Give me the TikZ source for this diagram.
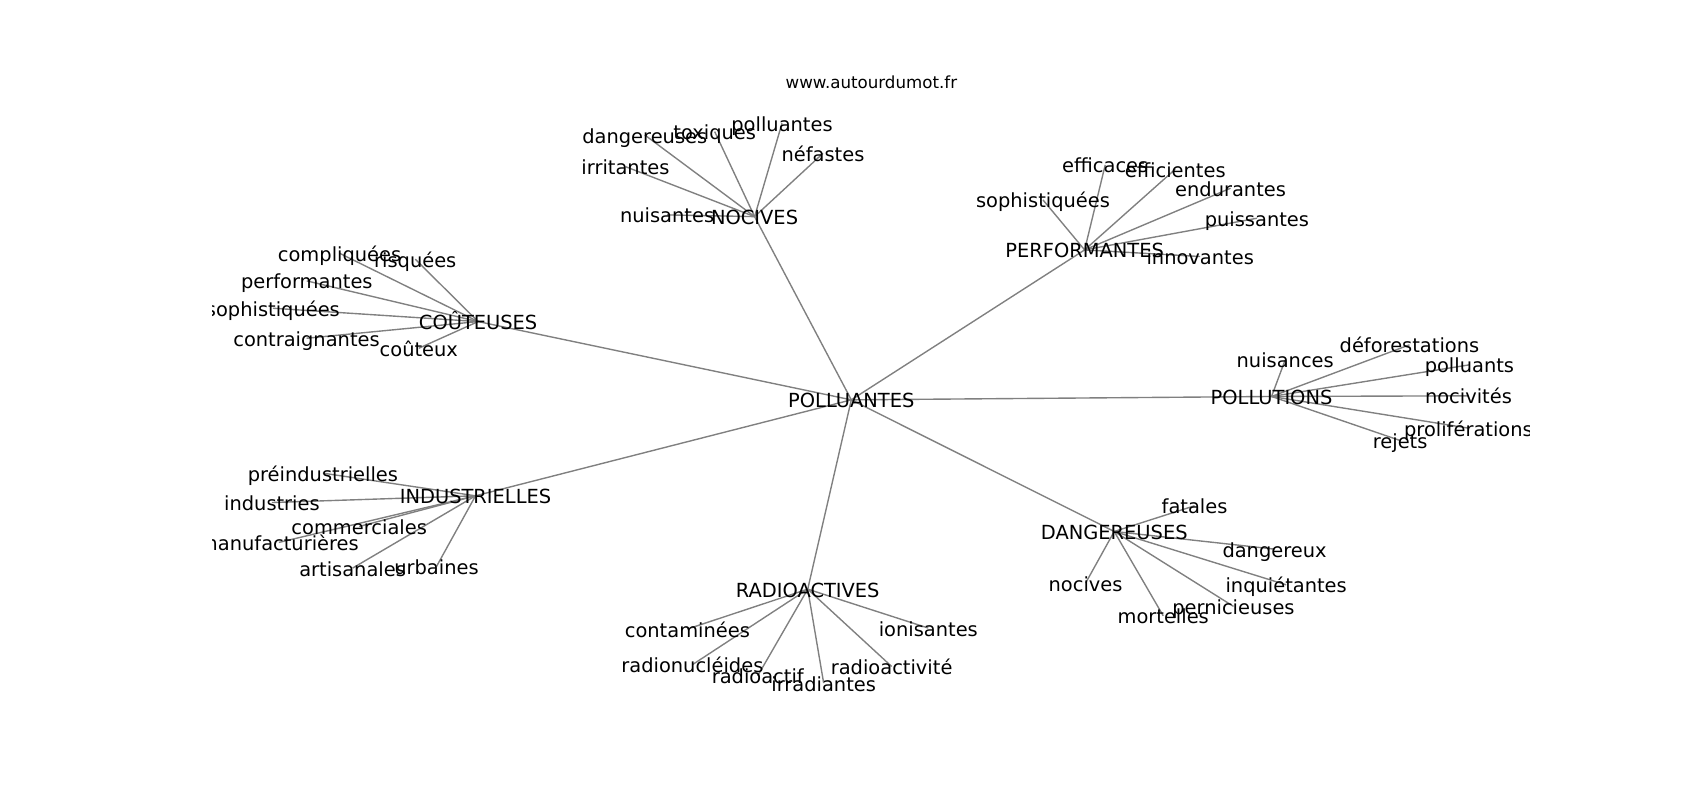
\documentclass[tikz,border=0pt]{standalone}
\usepackage{fontspec}
\setmainfont{DejaVu Sans}
\pgfdeclarelayer{bg}
\pgfsetlayers{bg,main}
\begin{document}
\begin{tikzpicture}[x=0.5pt,y=-0.5pt,
  lbl/.style={inner sep=0pt, text height=0.95em, text depth=0.21em, anchor=center,
    font=\fontsize{8.96pt}{10pt}\selectfont},
  ttl/.style={inner sep=0pt, text height=0.76em, text depth=0.21em, anchor=center,
    font=\fontsize{7.69pt}{9pt}\selectfont},
  edge/.style={draw=gray, line width=0.64pt}]
\useasboundingbox (0,0) rectangle (1568,738);
\node[ttl] (title) at (803.7,76.2) {www.autourdumot.fr};
\begin{scope}
\clip (196,0) rectangle (1411,738);
% root and hubs
\node[lbl] (root) at (785.2,368.8) {POLLUANTES};
\node[lbl] (noc) at (696,199.8) {NOCIVES};
\node[lbl] (perf) at (1000.4,230.5) {PERFORMANTES};
\node[lbl] (cout) at (441,296.6) {COÛTEUSES};
\node[lbl] (pol) at (1172.8,365.7) {POLLUTIONS};
\node[lbl] (ind) at (438.6,457.3) {INDUSTRIELLES};
\node[lbl] (dan) at (1027.7,490.2) {DANGEREUSES};
\node[lbl] (rad) at (745,543.4) {RADIOACTIVES};
% NOCIVES leaves
\node[lbl] (n1) at (594.7,124.5) {dangereuses};
\node[lbl] (n2) at (659.2,121.4) {toxiques};
\node[lbl] (n3) at (721.3,113.7) {polluantes};
\node[lbl] (n4) at (759.1,141.4) {néfastes};
\node[lbl] (n5) at (576.9,153.7) {irritantes};
\node[lbl] (n6) at (615.3,198.2) {nuisantes};
% PERFORMANTES leaves
\node[lbl] (p1) at (1019.4,152.1) {efficaces};
\node[lbl] (p2) at (1084,156.1) {efficientes};
\node[lbl] (p3) at (1135,173.6) {endurantes};
\node[lbl] (p4) at (1159.3,201.3) {puissantes};
\node[lbl] (p5) at (962,184.4) {sophistiquées};
\node[lbl] (p6) at (1107,236.6) {innovantes};
% COUTEUSES leaves
\node[lbl] (c1) at (313.2,233.6) {compliquées};
\node[lbl] (c2) at (383,239.1) {risquées};
\node[lbl] (c3) at (283,259.1) {performantes};
\node[lbl] (c4) at (251.7,284.3) {sophistiquées};
\node[lbl] (c5) at (282.7,312) {contraignantes};
\node[lbl] (c6) at (386.3,321.2) {coûteux};
% POLLUTIONS leaves
\node[lbl] (l1) at (1185.4,331.9) {nuisances};
\node[lbl] (l2) at (1300,318.1) {déforestations};
\node[lbl] (l3) at (1355.3,336.5) {polluants};
\node[lbl] (l4) at (1354.4,365.1) {nocivités};
\node[lbl] (l5) at (1354.4,394.9) {proliférations};
\node[lbl] (l6) at (1291.4,406.3) {rejets};
% INDUSTRIELLES leaves
\node[lbl] (i1) at (297.8,436.4) {préindustrielles};
\node[lbl] (i2) at (250.8,463.5) {industries};
\node[lbl] (i3) at (331.3,485.6) {commerciales};
\node[lbl] (i4) at (257.2,500.3) {manufacturières};
\node[lbl] (i5) at (325.2,524) {artisanales};
\node[lbl] (i6) at (402.6,522.5) {urbaines};
% DANGEREUSES leaves
\node[lbl] (d1) at (1101.8,466.5) {fatales};
\node[lbl] (d2) at (1175.6,506.5) {dangereux};
\node[lbl] (d3) at (1001.3,537.8) {nocives};
\node[lbl] (d4) at (1186.3,539.4) {inquiétantes};
\node[lbl] (d5) at (1137.7,559.3) {pernicieuses};
\node[lbl] (d6) at (1072.9,568) {mortelles};
% RADIOACTIVES leaves
\node[lbl] (r1) at (634,580.2) {contaminées};
\node[lbl] (r2) at (856.2,579.3) {ionisantes};
\node[lbl] (r3) at (638.6,613.1) {radionucléides};
\node[lbl] (r4) at (698.9,623.3) {radioactif};
\node[lbl] (r5) at (759.7,630) {irradiantes};
\node[lbl] (r6) at (822.4,614.7) {radioactivité};
\end{scope}
\begin{pgfonlayer}{bg}
\foreach \h in {noc,perf,cout,pol,ind,dan,rad}
  \draw[edge] (root.center) -- (\h.center);
\foreach \l in {n1,n2,n3,n4,n5,n6}
  \draw[edge] (noc.center) -- (\l.center);
\foreach \l in {p1,p2,p3,p4,p5,p6}
  \draw[edge] (perf.center) -- (\l.center);
\foreach \l in {c1,c2,c3,c4,c5,c6}
  \draw[edge] (cout.center) -- (\l.center);
\foreach \l in {l1,l2,l3,l4,l5,l6}
  \draw[edge] (pol.center) -- (\l.center);
\foreach \l in {i1,i2,i3,i4,i5,i6}
  \draw[edge] (ind.center) -- (\l.center);
\foreach \l in {d1,d2,d3,d4,d5,d6}
  \draw[edge] (dan.center) -- (\l.center);
\foreach \l in {r1,r2,r3,r4,r5,r6}
  \draw[edge] (rad.center) -- (\l.center);
\end{pgfonlayer}
\end{tikzpicture}
\end{document}
